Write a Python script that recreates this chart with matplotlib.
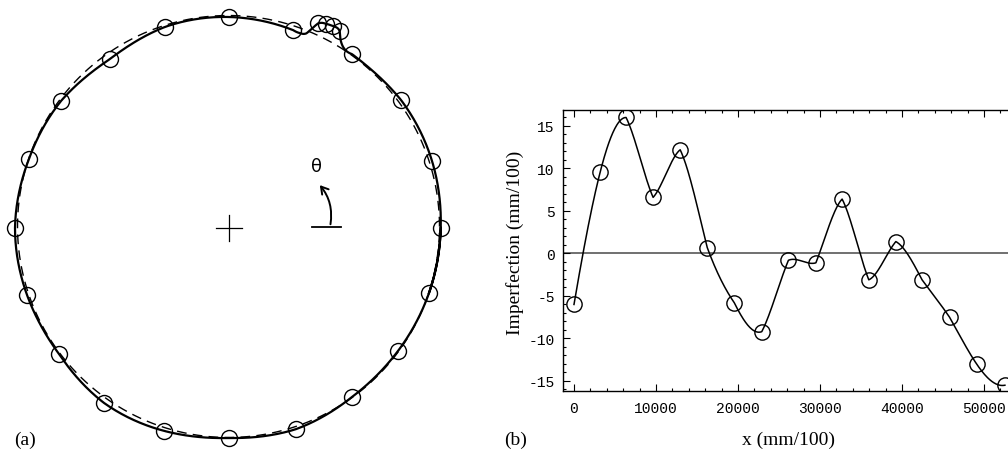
import numpy as np
import matplotlib
matplotlib.use('Agg')
import matplotlib.pyplot as plt
from matplotlib.patches import FancyArrowPatch
from matplotlib.ticker import MultipleLocator

plt.rcParams['axes.unicode_minus'] = False

# (a) measured section profile: radius (px) against angle (deg), cross at origin
mark_theta = [0, 18.3, 36.7, 54.7, 60.7, 62.8, 64.6, 66.5, 72, 90, 107.7, 125.2,
              142.9, 161, 180, 198.3, 216.5, 234.5, 252.3, 270, 288.4, 306, 324, 342]
mark_r = [211.7, 213.8, 214.4, 213, 226, 227, 226, 223, 208, 211, 211, 206.7,
          210.6, 211.6, 214, 212.8, 211.6, 215, 213, 210, 212, 209, 209, 210.3]
# extra profile points (no marker) around the dent near the top
kink_theta = [57.5, 59.5, 68.3, 69.8]
kink_r = [213.5, 219.5, 209.5, 207.5]
# nominal circle
circ_cx, circ_cy, circ_r = -0.5, 1.5, 211.0

# (b) imperfection along x
x_pts = [0, 3200, 6350, 9650, 12950, 16250, 19550, 22900, 26150, 29500,
         32700, 35950, 39250, 42450, 45800, 49100, 52550]
imp = [-6.0, 9.6, 16.0, 6.6, 12.2, 0.7, -5.8, -9.2, -0.8, -1.1,
       6.4, -3.1, 1.4, -3.1, -7.5, -13.0, -15.5]


def local_cubic(xs, ys, n=40, periodic=False):
    """piecewise cubic through 4 neighbouring nodes (Mathematica style)"""
    xs = np.asarray(xs, float)
    ys = np.asarray(ys, float)
    if periodic:
        xs = np.concatenate([xs[-2:] - 360, xs, xs[:2] + 360])
        ys = np.concatenate([ys[-2:], ys, ys[:2]])
        segs = range(1, len(xs) - 2)
    else:
        segs = range(len(xs) - 1)
    N = len(xs)
    ox, oy = [], []
    for i in segs:
        j0 = min(max(i - 1, 0), N - 4)
        px = xs[j0:j0 + 4]
        py = ys[j0:j0 + 4]
        t = np.linspace(xs[i], xs[i + 1], n)
        y = np.zeros_like(t)
        for k in range(4):
            w = np.ones_like(t)
            for m in range(4):
                if m != k:
                    w *= (t - px[m]) / (px[k] - px[m])
            y += w * py[k]
        ox.append(t)
        oy.append(y)
    return np.concatenate(ox), np.concatenate(oy)


fig = plt.figure(figsize=(10.08, 4.52), dpi=100)

#%% (a) cross-section
axa = fig.add_axes([0, 0, 470 / 1008, 1])
axa.set_xlim(-229, 241)
axa.set_ylim(-223, 229)
axa.set_aspect('equal')
axa.axis('off')

phi = np.linspace(0, 2 * np.pi, 400)
axa.plot(circ_cx + circ_r * np.cos(phi), circ_cy + circ_r * np.sin(phi),
         color='black', lw=1.0, dashes=(7, 4.5))

prof_t = np.array(mark_theta + kink_theta)
prof_r = np.array(mark_r + kink_r)
order = np.argsort(prof_t)
tt, rr = local_cubic(prof_t[order], prof_r[order], periodic=True)
tt = np.radians(tt)
axa.plot(rr * np.cos(tt), rr * np.sin(tt), color='black', lw=1.6)

mt = np.radians(mark_theta)
mr = np.array(mark_r)
axa.plot(mr * np.cos(mt), mr * np.sin(mt), 'o', ms=11.5, mfc='none',
         mec='black', mew=1.0)

# centre cross and angle indicator
axa.plot([-13, 13], [0, 0], color='black', lw=0.9)
axa.plot([0, 0], [-13, 13], color='black', lw=0.9)
axa.plot([83, 112], [1, 1], color='black', lw=1.3)
axa.add_patch(FancyArrowPatch((101, 1), (89, 45), connectionstyle='arc3,rad=0.25',
                              arrowstyle='->,head_length=5,head_width=3',
                              color='black', lw=1.4))
axa.text(87, 62, 'θ', fontsize=13, ha='center', va='center')

#%% (b) imperfection plot
x0, x1 = -1340, 54000
axb = fig.add_axes([563 / 1008, 60 / 452, (x1 - x0) * 0.0082 / 1008, 281 / 452])
axb.set_xlim(x0, x1)
axb.set_ylim(-16.18, 16.88)
axb.axhline(0, color='#707070', lw=1.4, zorder=1)

cx, cy = local_cubic(x_pts, imp, n=40)
axb.plot(cx, cy, color='black', lw=1.1, zorder=2)
axb.plot(x_pts, imp, 'o', ms=11, mfc='none', mec='black', mew=1.0, zorder=3)

axb.xaxis.set_major_locator(MultipleLocator(10000))
axb.xaxis.set_minor_locator(MultipleLocator(2000))
axb.yaxis.set_major_locator(MultipleLocator(5))
axb.yaxis.set_minor_locator(MultipleLocator(1))
axb.tick_params(which='both', direction='in', top=True, right=True, width=0.8)
axb.tick_params(which='major', length=5)
axb.tick_params(which='minor', length=2.5)
axb.tick_params(axis='x', pad=7)
axb.tick_params(axis='y', pad=6)
for lab in axb.get_xticklabels() + axb.get_yticklabels():
    lab.set_fontfamily('Liberation Mono')
    lab.set_fontsize(10.5)
for sp in axb.spines.values():
    sp.set_linewidth(1.0)

axb.set_xlabel('x (mm/100)', fontsize=14, fontfamily='Liberation Serif', va='top')
axb.xaxis.set_label_coords(0.496, -0.142)
axb.set_ylabel('Imperfection (mm/100)', fontsize=14, fontfamily='Liberation Serif')
axb.yaxis.set_label_coords(-0.086, 0.53)

fig.text(25 / 1008, 1 - 440 / 452, '(a)', fontsize=14, fontfamily='Liberation Serif',
         ha='center', va='center')
fig.text(516 / 1008, 1 - 440 / 452, '(b)', fontsize=14, fontfamily='Liberation Serif',
         ha='center', va='center')

fig.savefig('out.png', dpi=100)
